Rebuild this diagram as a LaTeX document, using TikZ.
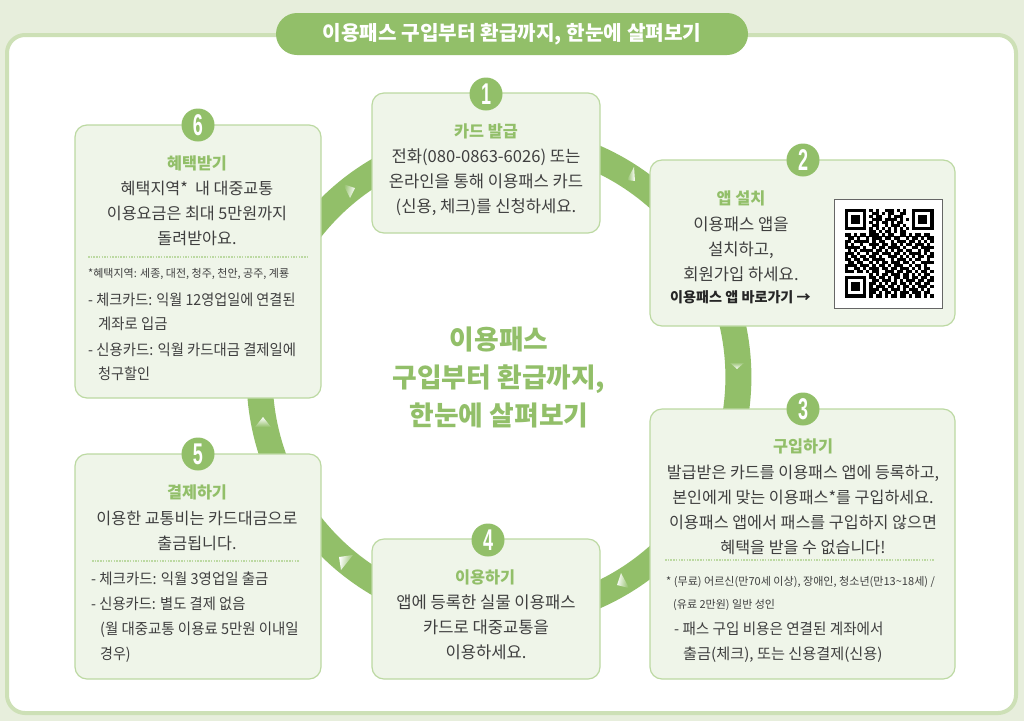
\documentclass[tikz,border=0pt]{standalone}
\usepackage{fontspec}
\usepackage{graphicx}
\usetikzlibrary{calc}
\setmainfont{Noto Sans CJK KR}
\newfontfamily\digitfont{Liberation Sans}
\definecolor{bgc}{HTML}{E7EEDC}
\definecolor{framec}{HTML}{CDE0B6}
\definecolor{ringc}{HTML}{92BF69}
\definecolor{boxc}{HTML}{EFF5E9}
\definecolor{boxl}{HTML}{BCD9A2}
\definecolor{bodyc}{HTML}{3F3F3F}
\newcount\qrc
\def\qrparse#1{\ifx#1;\else\if1#1\fill[black] ({845+3.05*\qrc},{\qry}) rectangle ++(3.1,3.1);\fi\advance\qrc 1 \expandafter\qrparse\fi}
\def\qrrow#1#2{\qrc=0 \def\qry{209+3.05*#1}\qrparse#2;}
\def\tipmark#1#2#3#4{\shade[top color=white,bottom color=ringc,shading angle=#4] #1 -- #2 -- #3 -- cycle;}
\def\sq#1#2{\scalebox{#1}[1]{#2}}
\def\numglyph#1{\scalebox{.6}[1]{#1}}
\tikzset{
  x=1pt,y=-1pt,
  stepbox/.style={draw=boxl,fill=boxc,line width=1.2pt,rounded corners=12pt,inner sep=0pt},
  numdisc/.style={circle,fill=ringc,minimum size=33pt,inner sep=0pt,text=white,font=\digitfont\bfseries\fontsize{30}{30}\selectfont},
  headtxt/.style={inner sep=0pt,text=ringc,font=\bfseries\fontsize{16.3}{20}\selectfont},
  bodytxt/.style={inner sep=0pt,align=center,text=bodyc,font=\fontsize{16.6}{25}\selectfont},
  bodytight/.style={inner sep=0pt,align=center,text=bodyc,font=\fontsize{16.2}{25}\selectfont},
  listtxt/.style={inner sep=0pt,anchor=west,text=bodyc,text height=13pt,text depth=1pt,font=\fontsize{15.2}{25}\selectfont},
  smalltxt/.style={inner sep=0pt,anchor=west,text=bodyc,text height=10pt,text depth=2pt,font=\fontsize{11}{14}\selectfont},
  ringseg/.style={draw=ringc,line width=26pt},
  sepline/.style={draw=boxl,line width=1.7pt,dash pattern=on 1.5pt off 1.2pt},
}
\begin{document}
\begin{tikzpicture}
\useasboundingbox (0,0) rectangle (1024,721);
\fill[bgc] (0,0) rectangle (1024,721);
\draw[framec,line width=4pt,fill=white,rounded corners=18pt] (7,35) rectangle (1016,713);
\node[fill=ringc,rounded corners=21pt,minimum width=472pt,minimum height=42pt,inner sep=0pt,text=white,font=\bfseries\fontsize{20.2}{24}\selectfont] (title) at (512,34)
  {이용패스 구입부터 환급까지, 한눈에 살펴보기};

% ring
\coordinate (c) at (499,377);
\foreach \n/\a in {1/90,2/30,3/-30,4/-90,5/-150,6/150}{
  \coordinate (r\n) at ($(c)+(\a:239.4pt)$);
}
\draw[ringseg] (r1) arc[start angle=90,end angle=30,radius=239.4pt];
\draw[ringseg] (r2) arc[start angle=30,end angle=-30,radius=239.4pt];
\draw[ringseg] (r3) arc[start angle=-30,end angle=-90,radius=239.4pt];
\draw[ringseg] (r4) arc[start angle=-90,end angle=-150,radius=239.4pt];
\draw[ringseg] (r5) arc[start angle=-150,end angle=-210,radius=239.4pt];
\draw[ringseg] (r6) arc[start angle=150,end angle=90,radius=239.4pt];
\tipmark{(343,184)}{(355,188)}{(350,198)}{-100}
\tipmark{(627,180)}{(634,167)}{(635,181)}{-90}
\tipmark{(729,362)}{(745,362)}{(737,369)}{180}
\tipmark{(617,585)}{(621,573)}{(629,588)}{80}
\tipmark{(339,557)}{(353,555)}{(341,570)}{80}
\tipmark{(255,427)}{(271,427)}{(263,417)}{0}

% boxes
\node[stepbox,minimum width=228pt,minimum height=140pt] (b1) at (486,163) {};
\node[stepbox,minimum width=305pt,minimum height=166pt] (b2) at (802.5,243) {};
\node[stepbox,minimum width=305pt,minimum height=270pt] (b3) at (802.5,544) {};
\node[stepbox,minimum width=228pt,minimum height=140pt] (b4) at (486,609) {};
\node[stepbox,minimum width=246pt,minimum height=225pt] (b5) at (198,566.5) {};
\node[stepbox,minimum width=246pt,minimum height=273pt] (b6) at (198,261.5) {};

% numbers
\node[numdisc] (n1) at (486,94) {\numglyph{1}};
\node[numdisc] (n2) at (803,160) {\numglyph{2}};
\node[numdisc] (n3) at (803,409) {\numglyph{3}};
\node[numdisc] (n4) at (488,540) {\numglyph{4}};
\node[numdisc] (n5) at (198,454) {\numglyph{5}};
\node[numdisc] (n6) at (198,125) {\numglyph{6}};

% centre
\node[inner sep=0pt,align=center,text=ringc,font=\bfseries\fontsize{26.8}{38}\selectfont] (centre) at (499,377)
  {이용패스\\구입부터 환급까지,\\한눈에 살펴보기};

% box 1
\node[headtxt] (h1) at (486,131) {카드 발급};
\node[bodytxt] (t1) at (486,182) {전화(080-0863-6026) 또는\\온라인을 통해 이용패스 카드\\(신용, 체크)를 신청하세요.};

% box 2
\node[headtxt] (h2) at (741,198) {앱 설치};
\node[bodytxt] (t2) at (741,249) {이용패스 앱을\\설치하고,\\회원가입 하세요.};
\node[inner sep=0pt,text=black!85,font=\bfseries\fontsize{14.1}{16}\selectfont] (t2b) at (740.5,297) {이용패스 앱 바로가기 →};
\node[draw=black!60,fill=white,line width=1pt,minimum width=108pt,minimum height=109pt,inner sep=0pt] (qr) at (888,253.5) {};
\qrrow{0}{11111110101001110101001111111}
\qrrow{1}{10000010011010110011001000001}
\qrrow{2}{10111010101100101110001011101}
\qrrow{3}{10111010011101111010101011101}
\qrrow{4}{10111010101011010110001011101}
\qrrow{5}{10000010011001011101001000001}
\qrrow{6}{11111110101010101010101111111}
\qrrow{7}{00000000110101101011000000000}
\qrrow{8}{11010110111010110011010110110}
\qrrow{9}{01101001011101101100101101011}
\qrrow{10}{11011111010110010111011010101}
\qrrow{11}{10100100111011011010110111010}
\qrrow{12}{11111010010110111101001101111}
\qrrow{13}{01010111101101010110110010110}
\qrrow{14}{11101001011011101101011110101}
\qrrow{15}{10110110110100111010101011011}
\qrrow{16}{11011011011110010111010110010}
\qrrow{17}{01101100101011011101101001111}
\qrrow{18}{11110111010110101110010110100}
\qrrow{19}{10011010111011011011101010110}
\qrrow{20}{11101101011001110110110101101}
\qrrow{21}{00000000101011011101101010110}
\qrrow{22}{11111110110110101101101101101}
\qrrow{23}{10000010011011101010111011011}
\qrrow{24}{10111010110101011011010110110}
\qrrow{25}{10111010101110110101101011101}
\qrrow{26}{10111010111011011101011101010}
\qrrow{27}{10000010110101101011101110110}
\qrrow{28}{11111110101101011011010110101}

% box 3
\node[headtxt] (h3) at (803,446) {구입하기};
\node[bodytight] (t3) at (803,509.5) {발급받은 카드를 이용패스 앱에 등록하고,\\본인에게 맞는 이용패스*를 구입하세요.\\이용패스 앱에서 패스를 구입하지 않으면\\혜택을 받을 수 없습니다!};
\draw[sepline] (665,560) -- (934,560);
\node[smalltxt] (s3a) at (666,581) {\sq{1.005}{* (무료) 어르신(만70세 이상), 장애인, 청소년(만13\textasciitilde 18세) /}};
\node[smalltxt] (s3b) at (673,604) {(유료 2만원) 일반 성인};
\node[listtxt] (l3a) at (674,628) {\sq{.96}{- 패스 구입 비용은 연결된 계좌에서}};
\node[listtxt] (l3b) at (683,653) {출금(체크), 또는 신용결제(신용)};

% box 4
\node[headtxt] (h4) at (485,577) {이용하기};
\node[bodytxt] (t4) at (486,627) {앱에 등록한 실물 이용패스\\카드로 대중교통을\\이용하세요.};

% box 5
\node[headtxt] (h5) at (197,492) {결제하기};
\node[bodytight] (t5) at (197,530.5) {이용한 교통비는 카드대금으로\\출금됩니다.};
\draw[sepline] (92,561) -- (299,561);
\node[listtxt] (l5a) at (91,578) {\sq{.95}{- 체크카드: 익월 3영업일 출금}};
\node[listtxt] (l5b) at (91,603) {\sq{.94}{- 신용카드: 별도 결제 없음}};
\node[listtxt] (l5c) at (100,628) {\sq{.95}{(월 대중교통 이용료 5만원 이내일}};
\node[listtxt] (l5d) at (100,653) {\sq{.92}{경우)}};

% box 6
\node[headtxt] (h6) at (197,163) {혜택받기};
\node[bodytight] (t6) at (197,213) {혜택지역*\ \ 내 대중교통\\이용요금은 최대 5만원까지\\돌려받아요.};
\draw[sepline] (88,257) -- (308,257);
\node[smalltxt] (s6) at (88,273) {*혜택지역: 세종, 대전, 청주, 천안, 공주, 계룡};
\node[listtxt] (l6a) at (88,299) {\sq{.93}{- 체크카드: 익월 12영업일에 연결된}};
\node[listtxt] (l6b) at (98,323) {\sq{.945}{계좌로 입금}};
\node[listtxt] (l6c) at (88,349) {\sq{.945}{- 신용카드: 익월 카드대금 결제일에}};
\node[listtxt] (l6d) at (98,373) {\sq{.93}{청구할인}};
\end{tikzpicture}
\end{document}
